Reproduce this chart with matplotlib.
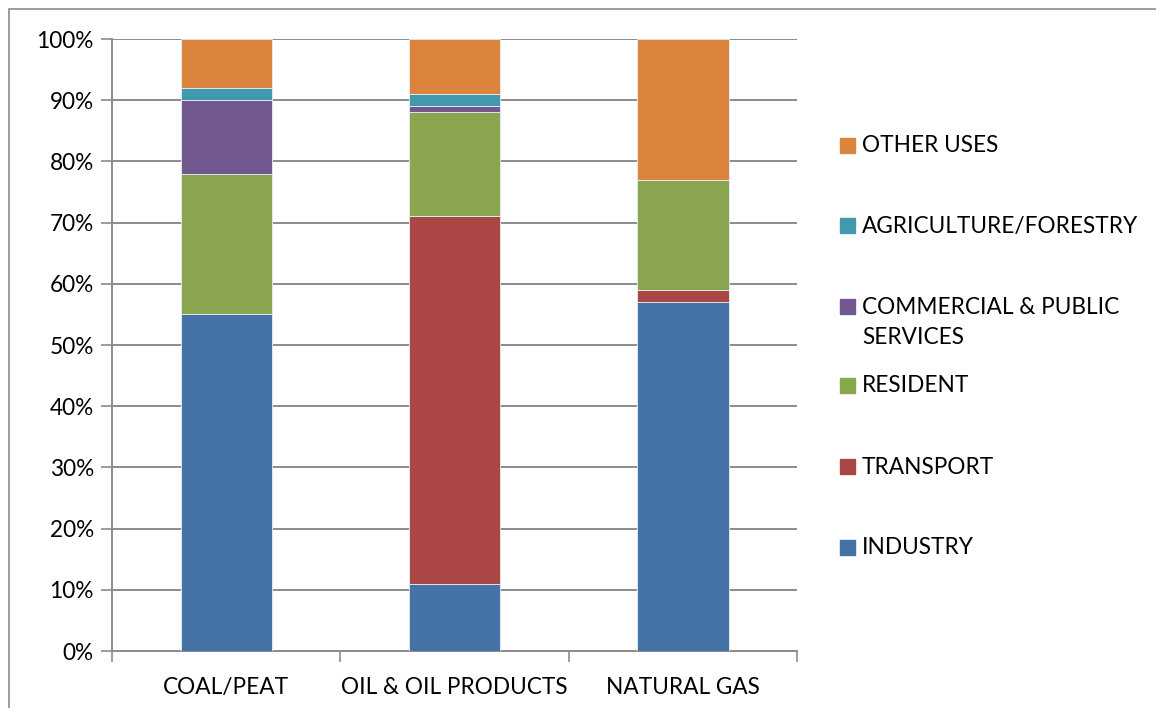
import matplotlib.pyplot as plt
from matplotlib.patches import Rectangle
from matplotlib.ticker import PercentFormatter

# data (shares in %, each bar sums to 100)
categories = ["COAL/PEAT", "OIL & OIL PRODUCTS", "NATURAL GAS"]
industry = [55, 11, 57]
transport = [0, 60, 2]
resident = [23, 17, 18]
commercial = [12, 1, 0]
agriculture = [2, 2, 0]
other_uses = [8, 9, 23]

series_names = ["INDUSTRY", "TRANSPORT", "RESIDENT",
                "COMMERCIAL & PUBLIC\nSERVICES", "AGRICULTURE/FORESTRY", "OTHER USES"]
series_vals = [industry, transport, resident, commercial, agriculture, other_uses]
colors = ["#4572A7", "#AA4643", "#89A54E", "#71588F", "#4198AF", "#DB843D"]

plt.rcParams["font.family"] = ["Lato", "DejaVu Sans"]
FS = 16.3

W, H = 1156, 708
fig = plt.figure(figsize=(W / 100, H / 100), dpi=100)
ax = fig.add_axes([112 / W, 1 - 651 / H, (797 - 112) / W, (651 - 39) / H])

x = range(len(categories))
bottom = [0] * len(categories)
for vals, col in zip(series_vals, colors):
    ax.bar(x, vals, width=0.4, bottom=bottom, color=col,
           edgecolor="#E8EEF5", linewidth=0.6, zorder=3)
    bottom = [b + v for b, v in zip(bottom, vals)]

ax.set_xlim(-0.5, 2.5)
ax.set_ylim(0, 100)
ax.set_yticks(range(0, 101, 10))
ax.yaxis.set_major_formatter(PercentFormatter(decimals=0))
ax.grid(axis="y", color="#8C8C8C", linewidth=1.4, zorder=0)

ax.set_xticks([-0.5, 0.5, 1.5, 2.5])
ax.set_xticklabels([])
ax.set_xticks(list(x), minor=True)
ax.set_xticklabels(categories, minor=True)
ax.tick_params(axis="x", which="major", length=8, color="#8C8C8C", width=1.2)
ax.tick_params(axis="x", which="minor", length=0, pad=19, labelsize=FS)
ax.tick_params(axis="y", length=8, color="#8C8C8C", width=1.2, labelsize=FS, pad=5)

for s in ["top", "right"]:
    ax.spines[s].set_visible(False)
for s in ["left", "bottom"]:
    ax.spines[s].set_color("#8C8C8C")
    ax.spines[s].set_linewidth(1.4)

# legend drawn by hand, top to bottom like the reference
leg_y = [146, 226, 307, 386, 467, 548]
order = [5, 4, 3, 2, 1, 0]
for yy, i in zip(leg_y, order):
    fig.patches.append(Rectangle((840 / W, 1 - (yy + 7) / H), 15 / W, 15 / H,
                                 transform=fig.transFigure, color=colors[i]))
    fig.text(862 / W, 1 - yy / H, series_names[i].split("\n")[0],
             fontsize=FS, va="center", ha="left")
    if "\n" in series_names[i]:
        fig.text(862 / W, 1 - (yy + 31) / H, series_names[i].split("\n")[1],
                 fontsize=FS, va="center", ha="left")

# outer chart border
fig.patches.append(Rectangle((9 / W, -0.1), 1.2, 1 - 9 / H + 0.1,
                             transform=fig.transFigure, fill=False,
                             edgecolor="#8C8C8C", linewidth=1.2))

fig.savefig("out.png", dpi=100)
